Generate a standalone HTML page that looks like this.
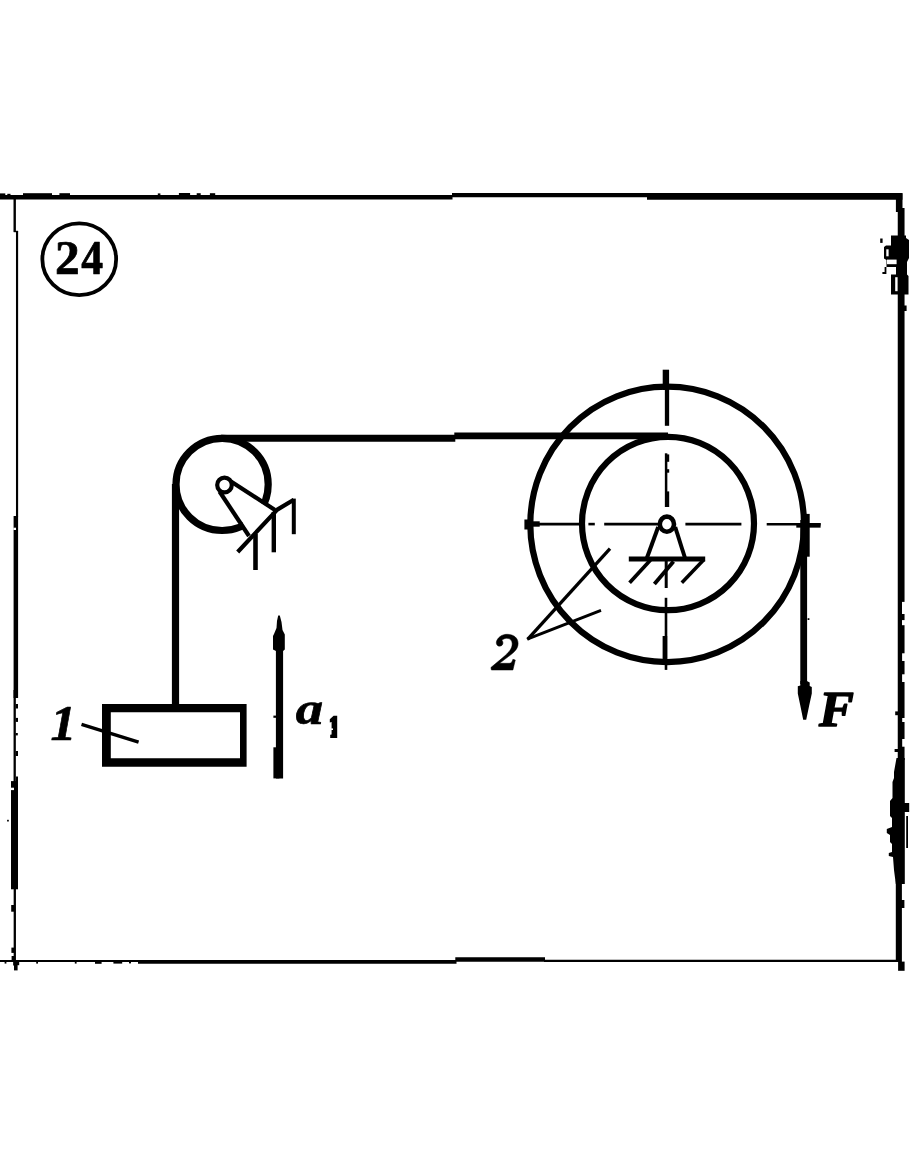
<!DOCTYPE html>
<html>
<head>
<meta charset="utf-8">
<title>24</title>
<style>
  html, body { margin: 0; padding: 0; background: #ffffff; }
  body { width: 910px; height: 1155px; overflow: hidden; position: relative; }
  svg { position: absolute; left: 0; top: 0; display: block; }
  text { font-family: "Liberation Serif", serif; fill: #000; stroke: #000; stroke-width: 0.7px; stroke-linejoin: round; }
</style>
</head>
<body>
<svg width="910" height="1155" viewBox="0 0 910 1155">
  <rect x="0" y="0" width="910" height="1155" fill="#ffffff"/>
  <defs><filter id="soft" x="0" y="0" width="910" height="1155" filterUnits="userSpaceOnUse"><feGaussianBlur stdDeviation="0.4"/></filter></defs>
  <g filter="url(#soft)">

  <!-- ===== frame ===== -->
  <g stroke="#000" fill="none" stroke-linecap="butt">
    <!-- top -->
    <line x1="0" y1="197.25" x2="452.5" y2="197.25" stroke-width="4.7"/>
    <line x1="452" y1="195.05" x2="648" y2="195.05" stroke-width="4.3"/>
    <line x1="647" y1="196.35" x2="902.4" y2="196.35" stroke-width="6.9"/>
    <!-- left -->
    <line x1="14.7" y1="195" x2="14.7" y2="231.6" stroke-width="2.4"/>
    <line x1="15.9" y1="230.8" x2="15.9" y2="232.2" stroke-width="4.4"/>
    <line x1="17.05" y1="231.2" x2="17.05" y2="516.5" stroke-width="2.15"/>
    <line x1="15.85" y1="516.1" x2="15.85" y2="698" stroke-width="4.5"/>
    <line x1="14.7" y1="690" x2="14.7" y2="782" stroke-width="2.3"/>
    <line x1="14.5" y1="781.1" x2="14.5" y2="889.3" stroke-width="7"/>
    <line x1="17" y1="776.5" x2="17" y2="782" stroke-width="2"/>
    <line x1="14.8" y1="889" x2="14.8" y2="966" stroke-width="2.3"/>
    <!-- bottom -->
    <line x1="0" y1="960.95" x2="138.5" y2="960.95" stroke-width="2.1"/>
    <line x1="138" y1="961.85" x2="456.5" y2="961.85" stroke-width="3.9"/>
    <line x1="455.3" y1="959.5" x2="545" y2="959.5" stroke-width="4.6"/>
    <line x1="544" y1="960.8" x2="897" y2="960.8" stroke-width="2.3"/>
    <!-- right -->
    <line x1="899.2" y1="193.3" x2="899.2" y2="212" stroke-width="6.6"/>
    <line x1="901.15" y1="208" x2="901.15" y2="760" stroke-width="6.8"/>
    <line x1="898.85" y1="880" x2="898.85" y2="962" stroke-width="6.1"/>
  </g>
  <!-- small specks on frame -->
  <g fill="#000">
    <rect x="0" y="193.4" width="5.3" height="2"/>
    <rect x="7.3" y="193.8" width="3.2" height="2"/>
    <rect x="23" y="193.2" width="29" height="2.4"/>
    <rect x="59.4" y="193.2" width="10.6" height="2.4"/>
    <rect x="157.8" y="193.4" width="2.6" height="2"/>
    <rect x="178.9" y="193" width="11.2" height="2.4"/>
    <rect x="196.7" y="193.2" width="4" height="2.2"/>
    <rect x="209.9" y="193.2" width="5.3" height="2.2"/>
    <rect x="95" y="960.2" width="6.6" height="3.6"/>
    <rect x="113.4" y="960.2" width="8.8" height="3.4"/>
    <rect x="129" y="960.4" width="2" height="3"/>
    <rect x="4.6" y="961" width="1.8" height="2.6"/>
    <rect x="36.2" y="961" width="1.8" height="2.6"/>
    <rect x="74.8" y="961" width="1.8" height="2.6"/>
    <rect x="11.4" y="947.6" width="3.6" height="5.3"/>
    <rect x="13.2" y="960.6" width="6" height="4.6"/>
    <rect x="14" y="965" width="3.6" height="5.4"/>
    <rect x="11.6" y="956" width="3" height="4"/>
    <rect x="7.1" y="819.8" width="1.7" height="1.7"/>
    <rect x="15.6" y="690" width="2.4" height="2.8"/>
    <rect x="15.6" y="704" width="2.4" height="4.5"/>
    <rect x="15.6" y="717.9" width="2.4" height="4"/>
    <rect x="15.6" y="733" width="2.2" height="2.4"/>
    <rect x="15.6" y="751" width="2.4" height="5"/>
    <rect x="13.4" y="527.7" width="2.6" height="2.3" fill="#fff"/>
    <rect x="10.8" y="787.7" width="3.2" height="2.4" fill="#fff"/>
    <rect x="11.2" y="905" width="3" height="6.7"/>
    <rect x="898.1" y="961.6" width="6.5" height="9.2"/>
    <rect x="807.6" y="618.2" width="1.8" height="1.8"/>
    <rect x="273.4" y="715.6" width="2.6" height="2.2"/>
  </g>
  <!-- right edge blobs -->
  <g fill="#000">
    <path d="M891 235.5 L906 235.5 L906 238 L909 240 L909 258 L907 262 L907 274.5 L908.5 276 L908.5 294.5 L891 294.5 L891 274.5 L896 274.5 L896 267 L886.5 267 L886.5 260 L884 258.5 L884 247 L886 245.5 L891 245.5 Z"/>
    <rect x="880.2" y="238.5" width="2.4" height="4.4"/>
    <path d="M882.4 272 L884.6 272 L884.6 267 L886.4 267 L886.4 274 L882.4 274 Z"/>
    <rect x="903" y="305.5" width="3.6" height="5.5"/>
    <rect x="886.3" y="249.3" width="2.3" height="7" fill="#fff"/>
    <rect x="887" y="259.6" width="9.6" height="4.6" fill="#fff"/>
    <rect x="895.2" y="277.2" width="2.4" height="14" fill="#fff"/>
    <path d="M896.5 758 L894 772 L894 778 L892.5 782 L892.5 798 L890 801 L890 816 L892 818 L892 827 L886.8 829 L886.8 833 L890 835 L890 842 L892 844 L892 852 L888.8 853 L888.8 856 L893 857 L894 870 L895.8 884 L904.8 884 L904.8 758 Z"/>
    <rect x="903" y="803" width="6.2" height="9"/>
    <rect x="906.2" y="816" width="1.8" height="32"/>
    <rect x="901" y="900" width="3.4" height="8"/>
    <rect x="895.2" y="711.4" width="3" height="3.8"/>
    <rect x="894.6" y="749" width="3.4" height="3"/>
    <g fill="#fff">
      <rect x="902" y="601.9" width="3.4" height="12.1"/>
      <rect x="902" y="620.1" width="3.4" height="5.1"/>
      <rect x="902.1" y="653.3" width="3" height="7.7"/>
      <rect x="902.1" y="674.3" width="3" height="7.7"/>
      <rect x="902.2" y="718" width="3" height="4"/>
      <rect x="902.2" y="739" width="3" height="7.7"/>
    </g>
  </g>

  <!-- ===== label 24 ===== -->
  <ellipse cx="79.25" cy="259.2" rx="36.9" ry="35.9" fill="none" stroke="#000" stroke-width="3.8"/>
  <text transform="translate(54.9 274.2) scale(1.04 1)" x="0" y="0" font-size="47.5" font-weight="bold">2</text>
  <text transform="translate(81.2 274.2) scale(0.92 1)" x="0" y="0" font-size="47.5" font-weight="bold">4</text>

  <!-- ===== ropes ===== -->
  <g stroke="#000" fill="none">
    <!-- top rope -->
    <line x1="221" y1="438.3" x2="455.3" y2="438.3" stroke-width="6.9"/>
    <line x1="454.3" y1="435.95" x2="668" y2="435.95" stroke-width="6.7"/>
    <!-- left vertical rope -->
    <line x1="175.5" y1="484" x2="175.5" y2="706" stroke-width="7.2"/>
    <!-- right vertical rope -->
    <line x1="803.7" y1="520" x2="803.7" y2="684" stroke-width="6.8"/>
  </g>
  <rect x="805" y="513.9" width="4.7" height="42.8" fill="#000"/>
  <!-- F arrow head -->
  <path d="M800.3 681 L806.9 681 L809.7 682.5 L809.7 686 L811.8 687 L811.8 693.5 L809.2 705.5 L806.2 719.8 L803.2 719.8 L800.3 705.5 L797.8 693.5 L797.8 686.2 L800.3 685.5 Z" fill="#000"/>

  <!-- ===== small pulley ===== -->
  <circle cx="222.1" cy="484.4" r="46.1" fill="none" stroke="#000" stroke-width="7.2"/>
  <polygon points="224.1,484.6 274.5,509.8 248.7,535.3" fill="#fff"/>
  <g stroke="#000" fill="none" stroke-width="4.2">
    <line x1="231" y1="481.5" x2="275" y2="510"/>
    <line x1="219.5" y1="491.5" x2="249" y2="536"/>
    <polyline points="237.7,552 277.3,509.6 293.8,499.8" stroke-linejoin="round"/>
    <line x1="255.5" y1="534" x2="255.5" y2="570" stroke-width="4.6"/>
    <line x1="273.8" y1="512" x2="273.8" y2="552.3" stroke-width="4.4"/>
    <line x1="293.8" y1="498.6" x2="293.8" y2="534.2" stroke-width="4"/>
  </g>
  <circle cx="224.5" cy="485" r="7.3" fill="#fff" stroke="#000" stroke-width="4.2"/>

  <!-- ===== big wheel ===== -->
  <ellipse cx="667.15" cy="524.35" rx="136.85" ry="137.75" fill="none" stroke="#000" stroke-width="6.2"/>
  <ellipse cx="668" cy="523.45" rx="86" ry="86.65" fill="none" stroke="#000" stroke-width="6.2"/>

  <!-- center lines -->
  <g stroke="#000" fill="none">
    <!-- vertical -->
    <line x1="665.9" y1="369.7" x2="665.9" y2="390" stroke-width="6.4"/>
    <line x1="667" y1="388" x2="667" y2="425.8" stroke-width="4.3"/>
    <line x1="666.1" y1="453.3" x2="666.1" y2="507" stroke-width="2.5"/>
    <line x1="667.7" y1="454.4" x2="667.7" y2="461.8" stroke-width="3"/>
    <line x1="667.7" y1="469.2" x2="667.7" y2="472.7" stroke-width="3"/>
    <line x1="667.4" y1="491.4" x2="667.4" y2="507" stroke-width="3.6"/>
    <line x1="666.2" y1="559" x2="666.2" y2="588" stroke-width="3"/>
    <line x1="666" y1="597.8" x2="666" y2="669.9" stroke-width="2.6"/>
    <line x1="664.9" y1="636" x2="664.9" y2="660" stroke-width="4.6"/>
    <!-- horizontal -->
    <line x1="524.4" y1="524.5" x2="528" y2="524.5" stroke-width="10"/>
    <line x1="532" y1="524" x2="539.7" y2="524" stroke-width="5.4"/>
    <line x1="538" y1="524.1" x2="580" y2="524.1" stroke-width="2.8"/>
    <line x1="588.4" y1="524.1" x2="594.8" y2="524.1" stroke-width="2.6"/>
    <line x1="604.2" y1="524.1" x2="658" y2="524.1" stroke-width="2.8"/>
    <line x1="685.4" y1="524.1" x2="741.4" y2="524.1" stroke-width="2.6"/>
    <line x1="766.7" y1="524.2" x2="820.6" y2="524.2" stroke-width="2.6"/>
    <line x1="796.3" y1="525.4" x2="820.6" y2="525.4" stroke-width="4.5"/>
  </g>

  <!-- central support -->
  <g stroke="#000" fill="none" stroke-width="4">
    <line x1="658.2" y1="527" x2="646.9" y2="558"/>
    <line x1="675.2" y1="527" x2="685" y2="558"/>
    <line x1="628.8" y1="559.1" x2="705.2" y2="559.1" stroke-width="5"/>
    <line x1="650.5" y1="560" x2="629.6" y2="582.8" stroke-width="3.7"/>
    <line x1="673.5" y1="561.5" x2="654.4" y2="584" stroke-width="3.9"/>
    <line x1="704" y1="559.5" x2="681.8" y2="582.8" stroke-width="3.5"/>
  </g>
  <ellipse cx="666.9" cy="524.2" rx="7.1" ry="7.55" fill="#fff" stroke="#000" stroke-width="4.6"/>

  <!-- leader lines for 2 -->
  <g stroke="#000" fill="none" stroke-width="3">
    <line x1="527.6" y1="639.4" x2="610" y2="548.6" stroke-width="3.3"/>
    <line x1="527.2" y1="639.2" x2="601" y2="610.4" stroke-width="2.9"/>
  </g>
  <path d="M496.8 640.6 C498.8 636.4 502.8 634.3 507.2 634.3 C513.6 634.3 518.1 637.9 518.1 643.4 C518.1 648.8 514.2 652.3 508.4 656.6 L499.6 663.3 L509.2 663.3 C511.3 663.3 512.2 661.8 512.9 659.3 L515.3 660 L512.9 670 L491.4 670 L490.9 667.5 L502.8 657.6 C508.8 652.6 512.2 648.6 512.2 643.9 C512.2 640.3 510 638.3 506.8 638.3 C504.4 638.3 502.8 639.2 502 640.6 C503.6 642.2 503.2 645.3 500.4 646.1 C497.3 646.8 495.4 643.8 496.8 640.6 Z" fill="#000" stroke="#000" stroke-width="0.5" stroke-linejoin="round"/>

  <!-- F -->
  <text transform="translate(818.9 726.2) scale(1.035 1)" x="0" y="0" font-size="50.5" font-weight="bold" font-style="italic" style="stroke-width:1.5px">F</text>

  <!-- ===== block 1 ===== -->
  <path d="M102 704.1 H246.6 V766.7 H102 Z M110.8 712.2 V758.3 H240 V712.2 Z" fill="#000" fill-rule="evenodd"/>
  <line x1="81.5" y1="724.3" x2="138.6" y2="742.2" stroke="#000" stroke-width="3.4"/>
  <text x="50.4" y="740" font-size="51.6" font-weight="bold" font-style="italic">1</text>

  <!-- ===== a1 arrow ===== -->
  <line x1="279.5" y1="640" x2="279.5" y2="778.4" stroke="#000" stroke-width="7.2"/>
  <rect x="273.4" y="747.3" width="6" height="31.1" fill="#000"/>
  <path d="M278.2 615.5 L279.8 615.5 L281.5 622 L282.5 630 L284.8 634.6 L284.8 649.4 L283 651 L276 651 L273 649.5 L273 636 L274 634 L276.5 628 L277 621 Z" fill="#000"/>
  <text transform="translate(295.7 723.9) scale(1.18 1)" x="0" y="0" font-size="46.5" font-weight="bold" font-style="italic">a</text>
  <path d="M333.6 715.8 L337.2 715.8 L337.2 737.9 L330.2 737.9 L330.2 734.8 L331.6 734.6 L331.6 722 L329.8 722.6 L329.8 719.2 Z" fill="#000"/>
  <rect x="329.6" y="728.4" width="3.4" height="1.6" fill="#fff"/>
  </g>
</svg>
</body>
</html>
